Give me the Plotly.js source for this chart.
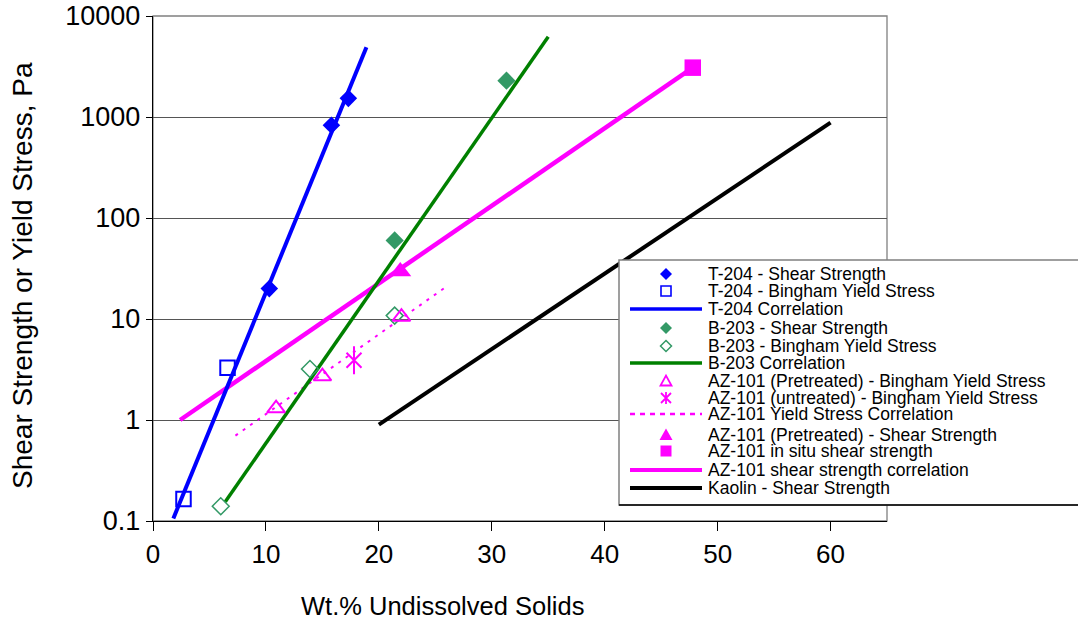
<!DOCTYPE html>
<html>
<head>
<meta charset="utf-8">
<script src="https://cdn.plot.ly/plotly-3.0.1.min.js"></script>
<style>html,body{margin:0;padding:0;background:#fff;}#chart{width:1078px;height:624px;}</style>
</head>
<body>
<div id="chart"></div>
<script>
// ---- data ----
var t204ShearX = [10.3, 15.8, 17.3];
var t204ShearY = [20, 830, 1530];
var t204BinghamX = [2.7, 6.6];
var t204BinghamY = [0.165, 3.3];
var t204CorrX = [1.8, 18.9];
var t204CorrY = [0.106, 4900];

var b203ShearX = [21.4, 31.3];
var b203ShearY = [60, 2290];
var b203BinghamX = [6.0, 13.9, 21.4];
var b203BinghamY = [0.14, 3.2, 10.8];
var b203CorrX = [6.4, 35.0];
var b203CorrY = [0.155, 6240];

var azPreBinghamX = [10.9, 15.0, 22.0];
var azPreBinghamY = [1.3, 2.7, 10.5];
var azUntreatedX = [17.8];
var azUntreatedY = [3.9];
var azYieldCorrX = [7.3, 26.0];
var azYieldCorrY = [0.7, 21];
var azPreShearX = [21.9];
var azPreShearY = [29.5];
var azInSituX = [47.8];
var azInSituY = [3080];
var azShearCorrX = [2.4, 47.8];
var azShearCorrY = [1.0, 3080];

var kaolinX = [20, 60];
var kaolinY = [0.9, 880];

var yTickVals = [0.1, 1, 10, 100, 1000, 10000];
var yTickText = ["0.1", "1", "10", "100", "1000", "10000"];
var xTickVals = [0, 10, 20, 30, 40, 50, 60];
var xTickText = ["0", "10", "20", "30", "40", "50", "60"];

var xTitle = "Wt.% Undissolved Solids";
var yTitle = "Shear Strength or Yield Stress, Pa";

var seriesNames = [
  "T-204 - Shear Strength",
  "T-204 - Bingham Yield Stress",
  "T-204 Correlation",
  "B-203 - Shear Strength",
  "B-203 - Bingham Yield Stress",
  "B-203 Correlation",
  "AZ-101 (Pretreated) - Bingham Yield Stress",
  "AZ-101 (untreated) - Bingham Yield Stress",
  "AZ-101 Yield Stress Correlation",
  "AZ-101 (Pretreated) - Shear Strength",
  "AZ-101 in situ shear strength",
  "AZ-101 shear strength correlation",
  "Kaolin - Shear Strength"
];

// ---- styling ----
var BLUE = '#0000FF', SEA = '#339966', GREEN = '#008000', MAG = '#FF00FF', BLACK = '#000000';
var FONT = 'Liberation Sans, Arial, sans-serif';

function lineTrace(x, y, name, color, width, dash) {
  return {x: x, y: y, name: name, type: 'scatter', mode: 'lines', showlegend: false,
          line: {color: color, width: width, dash: dash || 'solid'}};
}
function markTrace(x, y, name, symbol, size, color, lw) {
  return {x: x, y: y, name: name, type: 'scatter', mode: 'markers', showlegend: false,
          marker: {symbol: symbol, size: size, color: color,
                   line: {color: color, width: lw || 0}}};
}

var traces = [
  lineTrace(kaolinX, kaolinY, seriesNames[12], BLACK, 4),
  lineTrace(azShearCorrX, azShearCorrY, seriesNames[11], MAG, 4.5),
  lineTrace(azYieldCorrX, azYieldCorrY, seriesNames[8], MAG, 2, '3px,6px'),
  lineTrace(b203CorrX, b203CorrY, seriesNames[5], GREEN, 3.5),
  lineTrace(t204CorrX, t204CorrY, seriesNames[2], BLUE, 4),
  markTrace(t204ShearX, t204ShearY, seriesNames[0], 'diamond', 13.5, BLUE, 0),
  markTrace(t204BinghamX, t204BinghamY, seriesNames[1], 'square-open', 14.5, BLUE, 2),
  markTrace(b203ShearX, b203ShearY, seriesNames[3], 'diamond', 14, SEA, 0),
  markTrace(b203BinghamX, b203BinghamY, seriesNames[4], 'diamond-open', 13, SEA, 1.5),
  markTrace(azPreBinghamX, azPreBinghamY, seriesNames[6], 'triangle-up-open', 15.5, MAG, 2),
  markTrace(azUntreatedX, azUntreatedY, seriesNames[7], 'x-thin-open', 15, MAG, 2),
  markTrace(azUntreatedX, azUntreatedY, seriesNames[7], 'line-ns-open', 20, MAG, 2),
  markTrace(azPreShearX, azPreShearY, seriesNames[9], 'triangle-up', 19, MAG, 0),
  markTrace(azInSituX, azInSituY, seriesNames[10], 'square', 16.5, MAG, 0)
];

// ---- custom legend (Excel-style tight rows) ----
var L = 153, T = 16, W = 734, H = 505;
function px(x) { return (x - L) / W; }
function py(y) { return (T + H - y) / H; }

var rowY = [274, 291, 309, 328, 346, 363, 381, 398, 414, 435, 451, 470, 488];
var symX = 666, lineX0 = 630, lineX1 = 702, textX = 706;

var shapes = [
  {type: 'rect', xref: 'paper', yref: 'paper', x0: 0, x1: 1, y0: 0, y1: 1,
   line: {color: '#808080', width: 1.3}, layer: 'below'},
  {type: 'rect', xref: 'paper', yref: 'paper', x0: px(619), x1: px(1100), y0: py(505), y1: py(260),
   fillcolor: '#ffffff', line: {color: '#808080', width: 1.5}, layer: 'above'},
  {type: 'line', xref: 'paper', yref: 'paper', x0: px(619), x1: px(1100), y0: py(505), y1: py(505),
   line: {color: '#000000', width: 1.5}, layer: 'above'}
];

function pixShape(path, y, color, fill, lw) {
  return {type: 'path', xref: 'paper', yref: 'paper', xsizemode: 'pixel', ysizemode: 'pixel',
          xanchor: px(symX), yanchor: py(y), path: path,
          fillcolor: fill ? color : 'rgba(0,0,0,0)', line: {color: color, width: lw}, layer: 'above'};
}
function legLine(y, color, width, dash) {
  return {type: 'line', xref: 'paper', yref: 'paper', x0: px(lineX0), x1: px(lineX1), y0: py(y), y1: py(y),
          line: {color: color, width: width, dash: dash || 'solid'}, layer: 'above'};
}
var dia6 = 'M0,6 L6,0 L0,-6 L-6,0 Z';
var dia5 = 'M0,5.5 L5.5,0 L0,-5.5 L-5.5,0 Z';
var sq5 = 'M-5,-5 L5,-5 L5,5 L-5,5 Z';
var sq55 = 'M-5.5,-5.5 L5.5,-5.5 L5.5,5.5 L-5.5,5.5 Z';
var tri = 'M-5.5,-4.5 L5.5,-4.5 L0,5.5 Z';
var tri6 = 'M-6.5,-5 L6.5,-5 L0,6.5 Z';
var ast = 'M0,6 L0,-6 M-5,5 L5,-5 M-5,-5 L5,5';

shapes.push(pixShape(dia6, rowY[0], BLUE, true, 0));
shapes.push(pixShape(sq5, rowY[1], BLUE, false, 1.6));
shapes.push(legLine(rowY[2], BLUE, 3.5));
shapes.push(pixShape(dia6, rowY[3], SEA, true, 0));
shapes.push(pixShape(dia5, rowY[4], SEA, false, 1.5));
shapes.push(legLine(rowY[5], GREEN, 3.5));
shapes.push(pixShape(tri, rowY[6], MAG, false, 1.8));
shapes.push(pixShape(ast, rowY[7], MAG, false, 1.8));
shapes.push(legLine(rowY[8], MAG, 2.5, '5px,5px'));
shapes.push(pixShape(tri6, rowY[9], MAG, true, 0));
shapes.push(pixShape(sq55, rowY[10], MAG, true, 0));
shapes.push(legLine(rowY[11], MAG, 4));
shapes.push(legLine(rowY[12], BLACK, 4));

var annotations = seriesNames.map(function (s, i) {
  return {text: s, xref: 'paper', yref: 'paper', x: px(textX), y: py(rowY[i]),
          xanchor: 'left', yanchor: 'middle', showarrow: false,
          font: {family: FONT, size: 17.5, color: '#000'}};
});
// axis titles placed as in the reference (x title is not centred on the plot area there)
annotations.push({text: xTitle, xref: 'paper', yref: 'paper', x: px(442), y: py(606),
                  xanchor: 'center', yanchor: 'middle', showarrow: false,
                  font: {family: FONT, size: 25.5, color: '#000'}});
annotations.push({text: yTitle, xref: 'paper', yref: 'paper', x: px(22), y: py(276),
                  xanchor: 'center', yanchor: 'middle', showarrow: false, textangle: -90,
                  font: {family: FONT, size: 28, color: '#000'}});

var layout = {
  width: 1078, height: 624,
  margin: {l: L, r: 1078 - L - W, t: T, b: 624 - T - H, pad: 0},
  paper_bgcolor: '#ffffff', plot_bgcolor: '#ffffff',
  showlegend: false,
  font: {family: FONT, color: '#000'},
  xaxis: {
    range: [0, 65], tickvals: xTickVals, ticktext: xTickText,
    ticks: 'outside', ticklen: 9, tickwidth: 1, tickcolor: '#000',
    showline: true, linecolor: '#000', linewidth: 1.3,
    showgrid: false, zeroline: false,
    tickfont: {family: FONT, size: 26, color: '#000'}
  },
  yaxis: {
    type: 'log', range: [-1, 4], tickvals: yTickVals, ticktext: yTickText,
    ticks: 'outside', ticklen: 6, tickwidth: 1, tickcolor: '#000',
    showline: true, linecolor: '#000', linewidth: 1.3,
    showgrid: true, gridcolor: '#555555', gridwidth: 1,
    zeroline: false,
    tickfont: {family: FONT, size: 27, color: '#000'}
  },
  shapes: shapes,
  annotations: annotations
};

Plotly.newPlot('chart', traces, layout, {displayModeBar: false, staticPlot: true});
</script>
</body>
</html>
